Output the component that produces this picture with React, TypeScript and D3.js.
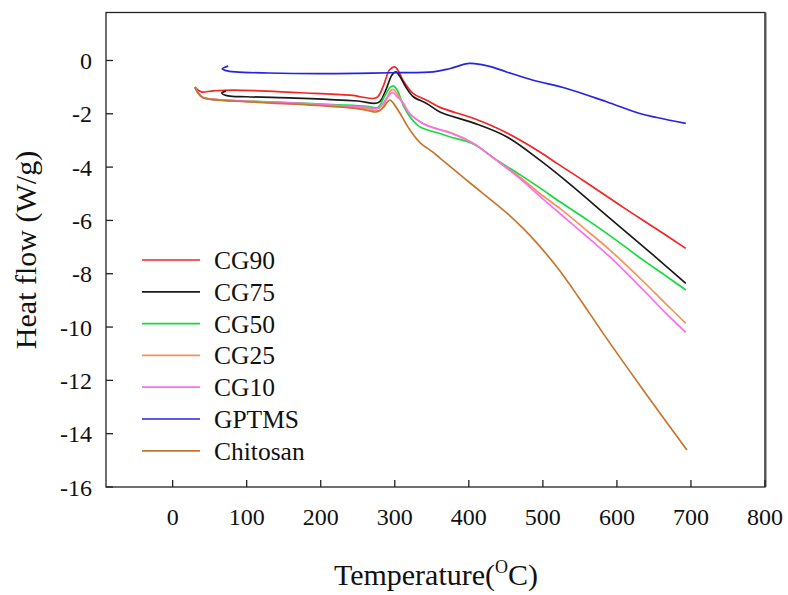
import React from "react";
import * as d3 from "d3";

// temperatures (°C) and heat flow (W/g)
const cg90T = [30, 35, 39, 55, 82, 172, 240, 275, 284, 293, 300, 306, 311, 325, 343, 361, 406, 451, 496, 519, 554, 608, 654, 693];
const cg90V = [-1.0, -1.12, -1.18, -1.14, -1.11, -1.21, -1.3, -1.4, -0.99, -0.35, -0.24, -0.45, -0.74, -1.24, -1.49, -1.76, -2.17, -2.71, -3.43, -3.86, -4.49, -5.5, -6.33, -7.05];

const cg75T = [72, 66.5, 75, 100, 186, 250, 278, 288, 296, 301.5, 307, 315, 325, 343, 361, 406, 451, 496, 530, 591, 636, 676, 693];
const cg75V = [-1.15, -1.22, -1.33, -1.36, -1.43, -1.52, -1.58, -1.1, -0.55, -0.43, -0.6, -1.0, -1.36, -1.61, -1.93, -2.34, -2.86, -3.74, -4.49, -5.93, -6.99, -7.95, -8.36];

const cg50T = [30, 34, 40, 55, 100, 172, 230, 262, 277, 286, 294, 298, 303, 311.5, 320.5, 334, 361, 375, 406, 437, 470, 496, 523, 560, 591, 636, 665, 693];
const cg50V = [-1.0, -1.2, -1.38, -1.46, -1.52, -1.6, -1.67, -1.72, -1.76, -1.35, -1.0, -0.95, -1.1, -1.68, -2.11, -2.49, -2.74, -2.87, -3.13, -3.72, -4.3, -4.78, -5.3, -5.98, -6.58, -7.5, -8.06, -8.61];

const cg25T = [30, 34, 40, 55, 100, 172, 230, 262, 280, 288, 294, 298, 303, 311, 320, 338, 361, 375, 406, 437, 470, 496, 523, 555, 591, 636, 665, 693];
const cg25V = [-1.0, -1.2, -1.38, -1.46, -1.53, -1.62, -1.72, -1.8, -1.88, -1.5, -1.15, -1.08, -1.25, -1.6, -1.99, -2.36, -2.6, -2.7, -3.1, -3.74, -4.4, -4.99, -5.55, -6.28, -7.12, -8.3, -9.1, -9.86];

const cg10T = [30, 34, 40, 55, 100, 172, 230, 262, 278, 288, 294, 298, 303, 311, 320, 338, 361, 375, 406, 437, 470, 496, 523, 555, 591, 636, 665, 693];
const cg10V = [-1.0, -1.2, -1.38, -1.46, -1.53, -1.61, -1.7, -1.76, -1.8, -1.45, -1.25, -1.21, -1.35, -1.58, -1.99, -2.36, -2.6, -2.72, -3.11, -3.74, -4.45, -5.1, -5.74, -6.5, -7.38, -8.62, -9.45, -10.2];

const gptmsT = [75, 67, 72, 85, 130, 200, 250, 294, 352, 375, 401, 428, 451, 487, 532, 586, 631, 654, 693];
const gptmsV = [-0.21, -0.31, -0.38, -0.43, -0.47, -0.49, -0.48, -0.46, -0.43, -0.3, -0.11, -0.22, -0.43, -0.74, -1.05, -1.55, -1.99, -2.14, -2.36];

const chitosanT = [30, 34, 40, 55, 100, 172, 230, 262, 275, 285, 290, 294, 298, 307, 320.5, 334, 351.5, 361, 384, 405.5, 428.5, 451.5, 473, 492, 519, 547.5, 584, 635.5, 694.5];
const chitosanV = [-1.0, -1.2, -1.38, -1.47, -1.55, -1.65, -1.75, -1.86, -1.93, -1.75, -1.55, -1.49, -1.6, -1.98, -2.61, -3.08, -3.44, -3.66, -4.19, -4.68, -5.2, -5.73, -6.29, -6.85, -7.75, -8.85, -10.34, -12.36, -14.61];

const seriesNames = ["CG90", "CG75", "CG50", "CG25", "CG10", "GPTMS", "Chitosan"];
const seriesColors = ["#f42525", "#1a1a1a", "#12dc3c", "#f7925a", "#fb6ef0", "#2525e0", "#c8762e"];
const seriesT = [cg90T, cg75T, cg50T, cg25T, cg10T, gptmsT, chitosanT];
const seriesV = [cg90V, cg75V, cg50V, cg25V, cg10V, gptmsV, chitosanV];

const xTicks = [0, 100, 200, 300, 400, 500, 600, 700, 800];
const yTicks = [0, -2, -4, -6, -8, -10, -12, -14, -16];

const W = 788;
const H = 595;
const left = 106, right = 765, top = 12.5, bottom = 487;
const font = "'Liberation Serif', 'Times New Roman', serif";

export default function App() {
  const x = d3.scaleLinear().domain([-90, 800]).range([left, right]);
  const y = d3.scaleLinear().domain([-16, 1.8]).range([bottom, top]);

  const line = d3
    .line<[number, number]>()
    .x(d => x(d[0]))
    .y(d => y(d[1]))
    .curve(d3.curveCatmullRom.alpha(0.5));

  return (
    <svg width={W} height={H} style={{ position: "absolute", left: 0, top: 0, background: "#fff" }} fontFamily={font}>
      <rect x={0} y={0} width={W} height={H} fill="#fff" />

      {/* curves */}
      {seriesNames.map((name, i) => {
        const pts = seriesT[i].map((t, j) => [t, seriesV[i][j]] as [number, number]);
        return <path key={name} d={line(pts) || ""} fill="none" stroke={seriesColors[i]} strokeWidth={1.7} strokeLinejoin="round" />;
      })}

      {/* frame */}
      <rect x={left} y={top} width={right - left} height={bottom - top} fill="none" stroke="#222" strokeWidth={1.3} />
      <line x1={right + 0.5} x2={right + 0.5} y1={top} y2={bottom} stroke="#555" strokeWidth={2} />

      {/* x axis */}
      {xTicks.map(t => (
        <g key={"x" + t}>
          <line x1={x(t)} x2={x(t)} y1={bottom} y2={bottom - 7} stroke="#222" strokeWidth={1.3} />
          <text x={x(t)} y={525} textAnchor="middle" fontSize={24} fill="#111">{t}</text>
        </g>
      ))}

      {/* y axis */}
      {yTicks.map(t => (
        <g key={"y" + t}>
          <line x1={left} x2={left + 7} y1={y(t)} y2={y(t)} stroke="#222" strokeWidth={1.3} />
          <text x={92} y={y(t) + 8.5} textAnchor="end" fontSize={24} fill="#111">{t}</text>
        </g>
      ))}

      {/* axis titles */}
      <text transform="translate(36,250) rotate(-90)" textAnchor="middle" fontSize={30} fill="#111">Heat flow (W/g)</text>
      <text x={436} y={585} textAnchor="middle" fontSize={30} fill="#111">
        Temperature(<tspan fontSize={18} dy={-12}>O</tspan><tspan dy={12}>C)</tspan>
      </text>

      {/* legend */}
      {seriesNames.map((name, i) => {
        const ly = 260 + i * 31.8;
        return (
          <g key={"lg" + name}>
            <line x1={142} x2={200} y1={ly} y2={ly} stroke={seriesColors[i]} strokeWidth={1.7} />
            <text x={214} y={ly + 9} fontSize={25.5} fill="#111">{name}</text>
          </g>
        );
      })}
    </svg>
  );
}
